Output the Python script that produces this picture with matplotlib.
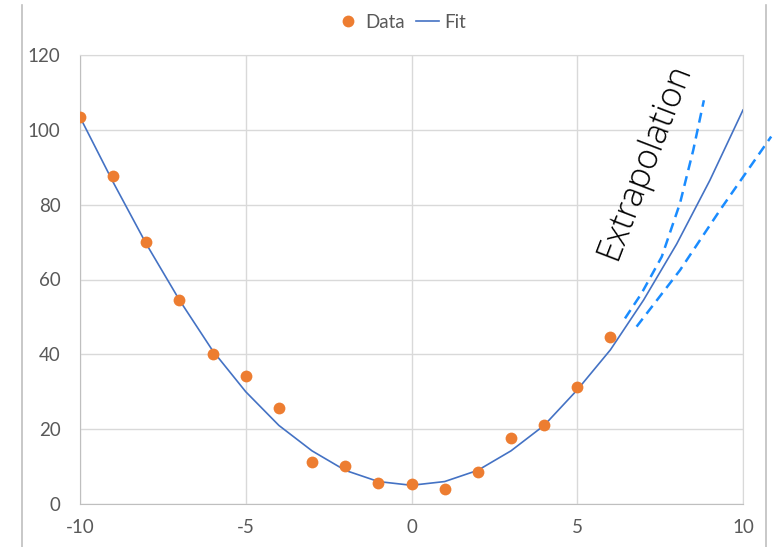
import numpy as np
import matplotlib.pyplot as plt
from matplotlib.lines import Line2D

# Observed data points
data_x = [-10, -9, -8, -7, -6, -5, -4, -3, -2, -1, 0, 1, 2, 3, 4, 5, 6]
data_y = [103.3, 87.7, 70.0, 54.5, 40.0, 34.2, 25.7, 11.3, 10.1, 5.7, 5.3, 4.1, 8.5, 17.6, 21.2, 31.4, 44.6]

# Fitted curve (sampled at integer x)
fit_x = list(range(-10, 11))
fit_y = [103.4, 86.0, 69.5, 54.5, 41.0, 30.0, 21.0, 14.2, 9.0, 6.0, 5.0, 6.0, 9.0, 14.2, 21.0,
         30.5, 41.2, 54.5, 69.5, 86.5, 105.3]

# Hand-drawn extrapolation envelopes
upper_x = [6.44, 6.94, 7.55, 8.10, 8.50, 8.82]
upper_y = [49.6, 56.3, 66.1, 80.4, 94.6, 107.9]
lower_x = [6.79, 8.10, 9.31, 10.85]
lower_y = [47.4, 62.5, 78.6, 98.2]

plt.rcParams['font.family'] = ['Lato', 'DejaVu Sans']
plt.rcParams['axes.unicode_minus'] = False

fig = plt.figure(figsize=(7.73, 5.47), dpi=100)
ax = fig.add_axes([80 / 773, 43 / 547, 663 / 773, 449 / 547])

ax.plot(data_x, data_y, 'o', color='#ED7D31', ms=8.5, mec='none', label='Data', zorder=4)
ax.plot(fit_x, fit_y, color='#4472C4', lw=1.2, label='Fit', zorder=3)
ax.plot(upper_x, upper_y, '--', color='#1A8CFF', lw=1.8, dashes=(4, 2.5), clip_on=False, zorder=3)
ax.plot(lower_x, lower_y, '--', color='#1A8CFF', lw=1.8, dashes=(4, 2.5), clip_on=False, zorder=3)

ax.text(7.04, 91.7, 'Extrapolation', rotation=69, rotation_mode='anchor',
        ha='center', va='center', fontsize=25, family=['Open Sans', 'DejaVu Sans'],
        fontweight='light', fontstyle='normal', color='black')

ax.set_xlim(-10, 10)
ax.set_ylim(0, 120)
ax.set_xticks([-10, -5, 0, 5, 10])
ax.set_yticks(np.arange(0, 121, 20))
ax.grid(True, color='#d9d9d9', lw=1)
ax.set_axisbelow(True)
for side in ['top', 'right']:
    ax.spines[side].set_color('#d9d9d9')
for side in ['left', 'bottom']:
    ax.spines[side].set_color('#bfbfbf')
ax.tick_params(length=0, labelsize=13.5, colors='#595959')
ax.tick_params(axis='y', pad=14)
ax.tick_params(axis='x', pad=11)

leg = ax.legend(loc='upper center', bbox_to_anchor=(0.485, 1.13), ncol=2, frameon=False,
                fontsize=13.5, handlelength=1.2, handletextpad=0.3, columnspacing=0.6,
                labelcolor='#595959')

# chart frame edges
fig.add_artist(Line2D([22 / 773, 22 / 773], [0, 542 / 547], color='#bfbfbf', lw=1.2))
fig.add_artist(Line2D([766 / 773, 766 / 773], [0, 542 / 547], color='#bfbfbf', lw=1.2))

fig.savefig('out.png', dpi=100)
